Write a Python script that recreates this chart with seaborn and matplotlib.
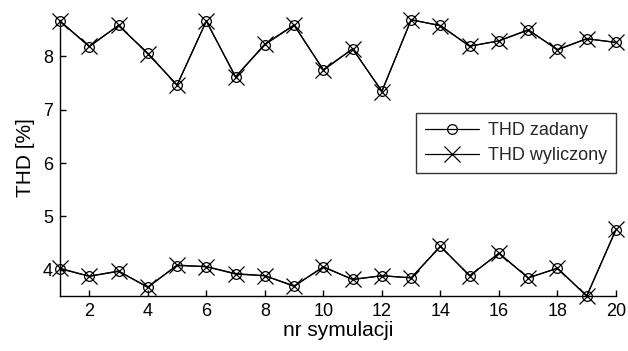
import numpy as np
import pandas as pd
import matplotlib
matplotlib.use("Agg")
import matplotlib.pyplot as plt
import seaborn as sns
from matplotlib.lines import Line2D

sim = list(range(1, 21))
zadany_high = [8.66, 8.18, 8.58, 8.06, 7.46, 8.66, 7.61, 8.22, 8.58, 7.75,
               8.14, 7.35, 8.68, 8.58, 8.19, 8.29, 8.49, 8.13, 8.33, 8.26]
wyliczony_high = [8.66, 8.19, 8.58, 8.05, 7.46, 8.66, 7.62, 8.23, 8.59, 7.74,
                  8.14, 7.34, 8.69, 8.57, 8.19, 8.29, 8.50, 8.12, 8.33, 8.26]
zadany_low = [4.02, 3.88, 3.97, 3.68, 4.08, 4.06, 3.92, 3.89, 3.70, 4.05,
              3.82, 3.89, 3.85, 4.44, 3.89, 4.31, 3.85, 4.03, 3.51, 4.75]
wyliczony_low = [4.03, 3.88, 3.98, 3.67, 4.09, 4.06, 3.93, 3.89, 3.69, 4.06,
                 3.82, 3.89, 3.85, 4.44, 3.89, 4.31, 3.85, 4.03, 3.51, 4.76]
labels = ["THD zadany", "THD wyliczony"]

sns.set_theme(style="white")
plt.rcParams['font.family'] = ['Liberation Sans', 'DejaVu Sans']

fig = plt.figure(figsize=(6.28, 3.51), dpi=100)
ax = fig.add_axes([60/628, 55/351, 556/628, 276.5/351])

series = [
    (zadany_high, 'o', 7, 'z_high'),
    (zadany_low, 'o', 7, 'z_low'),
    (wyliczony_high, 'x', 11, 'w_high'),
    (wyliczony_low, 'x', 11, 'w_low'),
]
for vals, mk, ms, name in series:
    df = pd.DataFrame({"nr": sim, "thd": vals})
    sns.lineplot(data=df, x="nr", y="thd", ax=ax, color='black', lw=0.9,
                 marker=mk, markersize=ms, markerfacecolor='none',
                 markeredgecolor='black', markeredgewidth=0.9,
                 estimator=None, legend=False, clip_on=False, zorder=3)

allv = zadany_high + wyliczony_high + zadany_low + wyliczony_low
ax.set_xlim(1, 20)
ax.set_ylim(min(allv), max(allv))
ax.set_xticks([2, 4, 6, 8, 10, 12, 14, 16, 18, 20])
ax.set_yticks([4, 5, 6, 7, 8])
ax.tick_params(direction='in', length=4, width=1, colors='black',
               labelsize=13, pad=5, bottom=True, left=True)
for s in ['top', 'right']:
    ax.spines[s].set_visible(False)
for s in ['left', 'bottom']:
    ax.spines[s].set_color('black')
    ax.spines[s].set_linewidth(1)
ax.set_xlabel("nr symulacji", fontsize=15, color='black', labelpad=1)
ax.set_ylabel("THD [%]", fontsize=15, color='black', labelpad=6)

handles = [
    Line2D([], [], color='black', lw=0.9, marker='o', markersize=7,
           markerfacecolor='none', markeredgewidth=0.9),
    Line2D([], [], color='black', lw=0.9, marker='x', markersize=11,
           markeredgewidth=0.9),
]
leg = ax.legend(handles, labels, loc='upper right',
                bbox_to_anchor=(1.0, 1 - (113 - 19.5) / 276.5),
                frameon=True, fancybox=False, edgecolor='black',
                fontsize=13, handlelength=3.0, borderpad=0.5,
                labelspacing=0.45, handletextpad=0.5, borderaxespad=0)
leg.get_frame().set_linewidth(1)

fig.savefig("out.png", dpi=100, facecolor='white')
